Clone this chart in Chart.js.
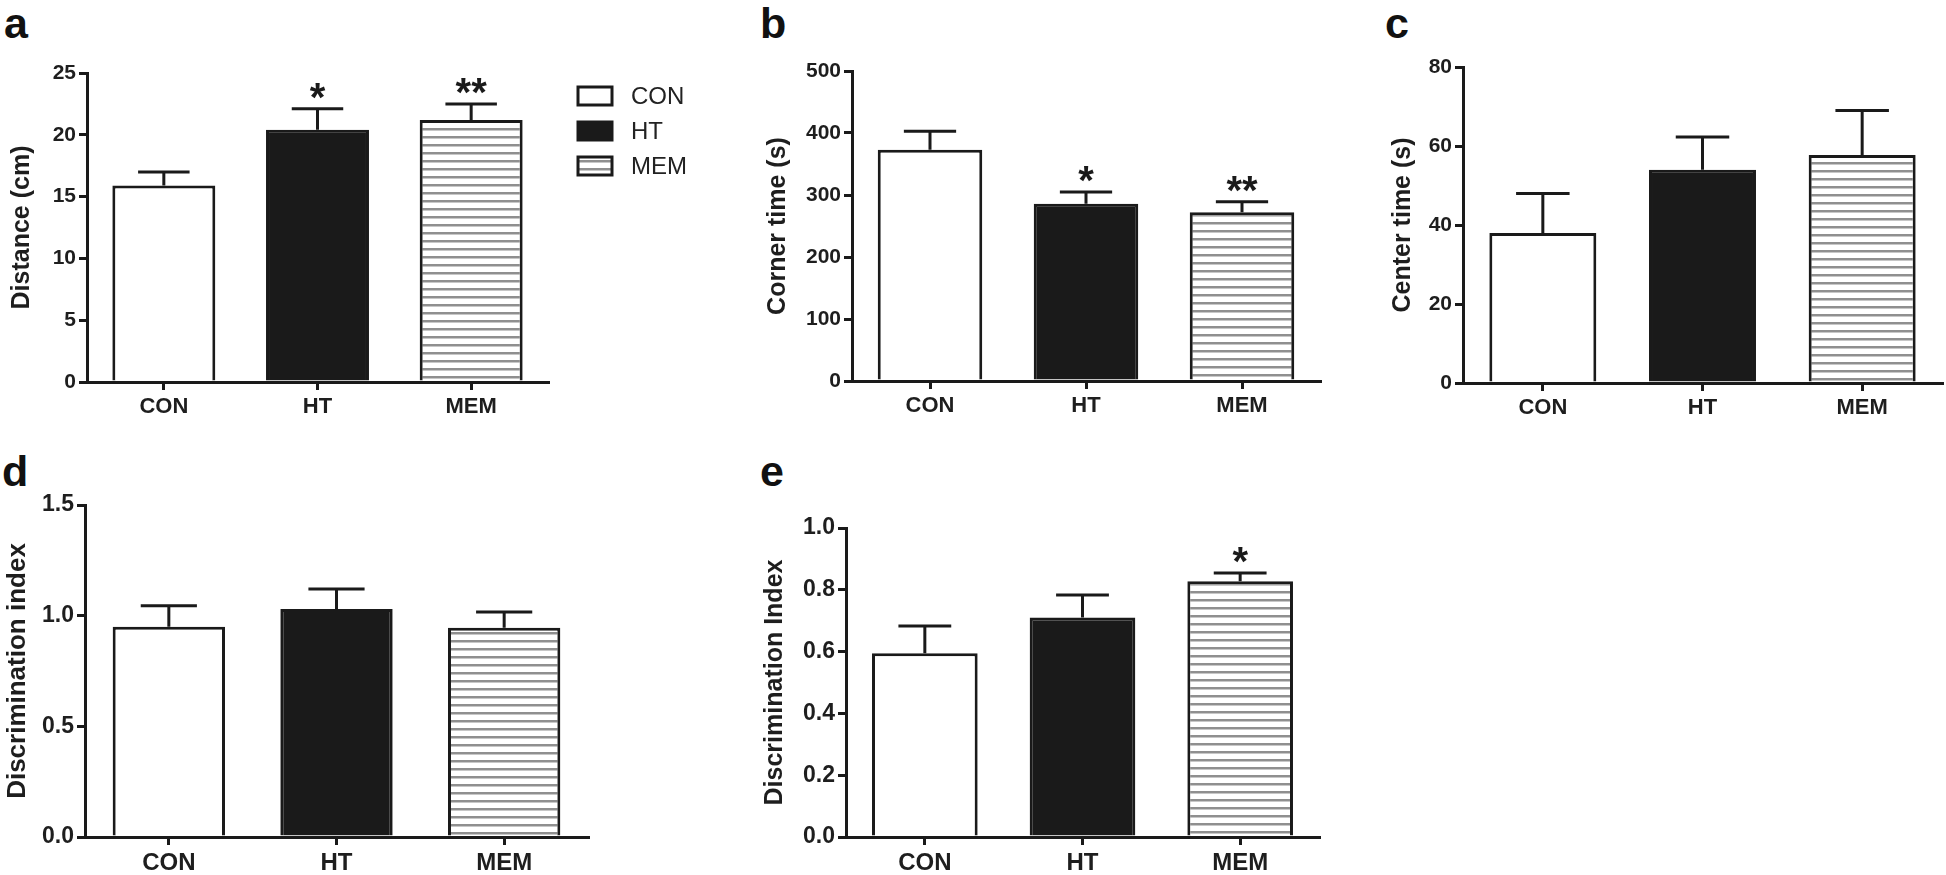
<!DOCTYPE html>
<html>
<head>
<meta charset="utf-8">
<script src="https://cdn.jsdelivr.net/npm/chart.js@4.4.0/dist/chart.umd.min.js"></script>
<style>
  body { margin: 0; background: #fff; width: 1946px; height: 875px; position: relative; overflow: hidden; }
  canvas { position: absolute; }
  .tag { position: absolute; font: bold 43px "Liberation Sans", Arial, sans-serif; line-height: 1; color: #111; }
</style>
</head>
<body>
<div class="tag" style="left:4px;top:2px">a</div>
<div class="tag" style="left:760px;top:2px">b</div>
<div class="tag" style="left:1385px;top:2px">c</div>
<div class="tag" style="left:2px;top:450px">d</div>
<div class="tag" style="left:760px;top:450px">e</div>

<canvas id="chartA"></canvas>
<canvas id="chartB"></canvas>
<canvas id="chartC"></canvas>
<canvas id="chartD"></canvas>
<canvas id="chartE"></canvas>

<script>
// data
const groups = ['CON', 'HT', 'MEM'];

const distMean = [15.9, 20.4, 21.2];
const distErr = [1.1, 1.7, 1.3];
const distStars = ['', '*', '**'];
const distTicks = [0, 5, 10, 15, 20, 25];

const cornerMean = [373, 286, 272];
const cornerErr = [30, 19, 17];
const cornerStars = ['', '*', '**'];
const cornerTicks = [0, 100, 200, 300, 400, 500];

const centerMean = [38, 54, 57.7];
const centerErr = [10, 8.3, 11.3];
const centerStars = ['', '', ''];
const centerTicks = [0, 20, 40, 60, 80];

const novelMean = [0.95, 1.03, 0.945];
const novelErr = [0.095, 0.09, 0.072];
const novelStars = ['', '', ''];
const novelTicks = [0, 0.5, 1.0, 1.5];

const indexMean = [0.595, 0.71, 0.828];
const indexErr = [0.088, 0.073, 0.026];
const indexStars = ['', '', '*'];
const indexTicks = [0, 0.2, 0.4, 0.6, 0.8, 1.0];

const FONT = '"Liberation Sans", Arial, sans-serif';
const INK = '#1a1a1a';

// horizontal stripes for MEM
function stripePattern() {
    const c = document.createElement('canvas');
    c.width = 8; c.height = 8;
    const g = c.getContext('2d');
    g.fillStyle = '#ffffff';
    g.fillRect(0, 0, 8, 8);
    g.fillStyle = '#8f8f8f';
    g.fillRect(0, 3, 8, 2.5);
    return g.createPattern(c, 'repeat');
}
const stripes = stripePattern();
const fills = ['#ffffff', INK, stripes];

const errorBars = {
    id: 'errorBars',
    afterDatasetsDraw(chart) {
        const ctx = chart.ctx;
        const y = chart.scales.y;
        const ds = chart.data.datasets[0];
        const meta = chart.getDatasetMeta(0);
        ctx.save();
        ctx.strokeStyle = INK;
        ctx.lineWidth = 3;
        meta.data.forEach((bar, i) => {
            const top = y.getPixelForValue(ds.data[i]);
            const end = y.getPixelForValue(ds.data[i] + ds.errors[i]);
            const half = bar.width * 0.25;
            ctx.beginPath();
            ctx.moveTo(bar.x, top);
            ctx.lineTo(bar.x, end);
            ctx.moveTo(bar.x - half, end);
            ctx.lineTo(bar.x + half, end);
            ctx.stroke();
            if (ds.stars[i]) {
                ctx.fillStyle = INK;
                ctx.font = 'bold 40px ' + FONT;
                ctx.textAlign = 'center';
                ctx.textBaseline = 'alphabetic';
                ctx.fillText(ds.stars[i], bar.x, end + 2);
            }
        });
        ctx.restore();
    }
};

// legend for panel a, drawn right of the plot
const sideLegend = {
    id: 'sideLegend',
    afterDraw(chart, args, opts) {
        if (!opts.show) return;
        const ctx = chart.ctx;
        const area = chart.chartArea;
        ctx.save();
        groups.forEach((g, i) => {
            const x = area.right + 30;
            const cy = area.top + 23 + i * 35;
            ctx.fillStyle = fills[i];
            ctx.fillRect(x, cy - 9, 34, 18);
            ctx.strokeStyle = INK;
            ctx.lineWidth = 3;
            ctx.strokeRect(x, cy - 9, 34, 18);
            ctx.fillStyle = '#222';
            ctx.font = '24px ' + FONT;
            ctx.textAlign = 'left';
            ctx.textBaseline = 'middle';
            ctx.fillText(g, x + 53, cy + 1);
        });
        ctx.restore();
    }
};

function makePanel(id, p) {
    const cv = document.getElementById(id);
    const left = p.canvasLeft;
    const top = p.T - 20;
    const width = p.R + p.padRight - left;
    const height = p.B + 48 - top;
    cv.style.left = left + 'px';
    cv.style.top = top + 'px';
    cv.width = width;
    cv.height = height;

    return new Chart(cv.getContext('2d'), {
        type: 'bar',
        data: {
            labels: groups,
            datasets: [{
                data: p.mean,
                errors: p.err,
                stars: p.stars,
                backgroundColor: fills,
                borderColor: INK,
                borderWidth: 3,
                borderSkipped: 'bottom',
                categoryPercentage: 1,
                barPercentage: 0.67,
            }]
        },
        options: {
            responsive: false,
            animation: false,
            devicePixelRatio: 1,
            layout: { padding: { top: 20, right: p.padRight, left: 0, bottom: 0 } },
            plugins: {
                legend: { display: false },
                tooltip: { enabled: false },
                sideLegend: { show: !!p.legend },
            },
            scales: {
                x: {
                    z: 1,
                    afterFit: (s) => { s.height = 48; },
                    border: { color: INK, width: 3 },
                    grid: { offset: false, drawOnChartArea: false, drawTicks: true, tickLength: 8, tickColor: INK, lineWidth: 3 },
                    ticks: { color: '#1e1e1e', padding: 4, font: { family: FONT, size: p.xFont, weight: 'bold' } },
                },
                y: {
                    min: p.ticks[0],
                    max: p.ticks[p.ticks.length - 1],
                    afterFit: (s) => { s.width = p.L - left; },
                    border: { color: INK, width: 3 },
                    grid: { drawOnChartArea: false, drawTicks: true, tickLength: 8, tickColor: INK, lineWidth: 3 },
                    ticks: {
                        stepSize: p.ticks[1] - p.ticks[0],
                        color: '#1e1e1e',
                        padding: 3,
                        font: { family: FONT, size: p.yFont, weight: 'bold' },
                        callback: (v) => p.decimals ? Number(v).toFixed(p.decimals) : v,
                    },
                    title: {
                        display: true,
                        text: p.title,
                        color: '#1e1e1e',
                        padding: { top: p.titlePad, bottom: 0 },
                        font: { family: FONT, size: p.titleFont, weight: 'bold' },
                    },
                },
            },
        },
        plugins: [errorBars, sideLegend],
    });
}

makePanel('chartA', { canvasLeft: 0, L: 87, R: 548, T: 73, B: 382, padRight: 152, legend: true,
    mean: distMean, err: distErr, stars: distStars, ticks: distTicks, decimals: 0,
    title: 'Distance (cm)', titlePad: 7, titleFont: 25, yFont: 21, xFont: 22 });

makePanel('chartB', { canvasLeft: 760, L: 852, R: 1320, T: 71, B: 381, padRight: 10,
    mean: cornerMean, err: cornerErr, stars: cornerStars, ticks: cornerTicks, decimals: 0,
    title: 'Corner time (s)', titlePad: 3, titleFont: 25, yFont: 21, xFont: 22 });

makePanel('chartC', { canvasLeft: 1380, L: 1463, R: 1942, T: 67, B: 383, padRight: 3,
    mean: centerMean, err: centerErr, stars: centerStars, ticks: centerTicks, decimals: 0,
    title: 'Center time (s)', titlePad: 8, titleFont: 25, yFont: 21, xFont: 22 });

makePanel('chartD', { canvasLeft: 0, L: 85, R: 588, T: 505, B: 837, padRight: 10,
    mean: novelMean, err: novelErr, stars: novelStars, ticks: novelTicks, decimals: 1,
    title: 'Discrimination index', titlePad: 2, titleFont: 26, yFont: 23, xFont: 24 });

makePanel('chartE', { canvasLeft: 755, L: 846, R: 1319, T: 528, B: 837, padRight: 10,
    mean: indexMean, err: indexErr, stars: indexStars, ticks: indexTicks, decimals: 1,
    title: 'Discrimination Index', titlePad: 5, titleFont: 25, yFont: 23, xFont: 24 });
</script>
</body>
</html>
